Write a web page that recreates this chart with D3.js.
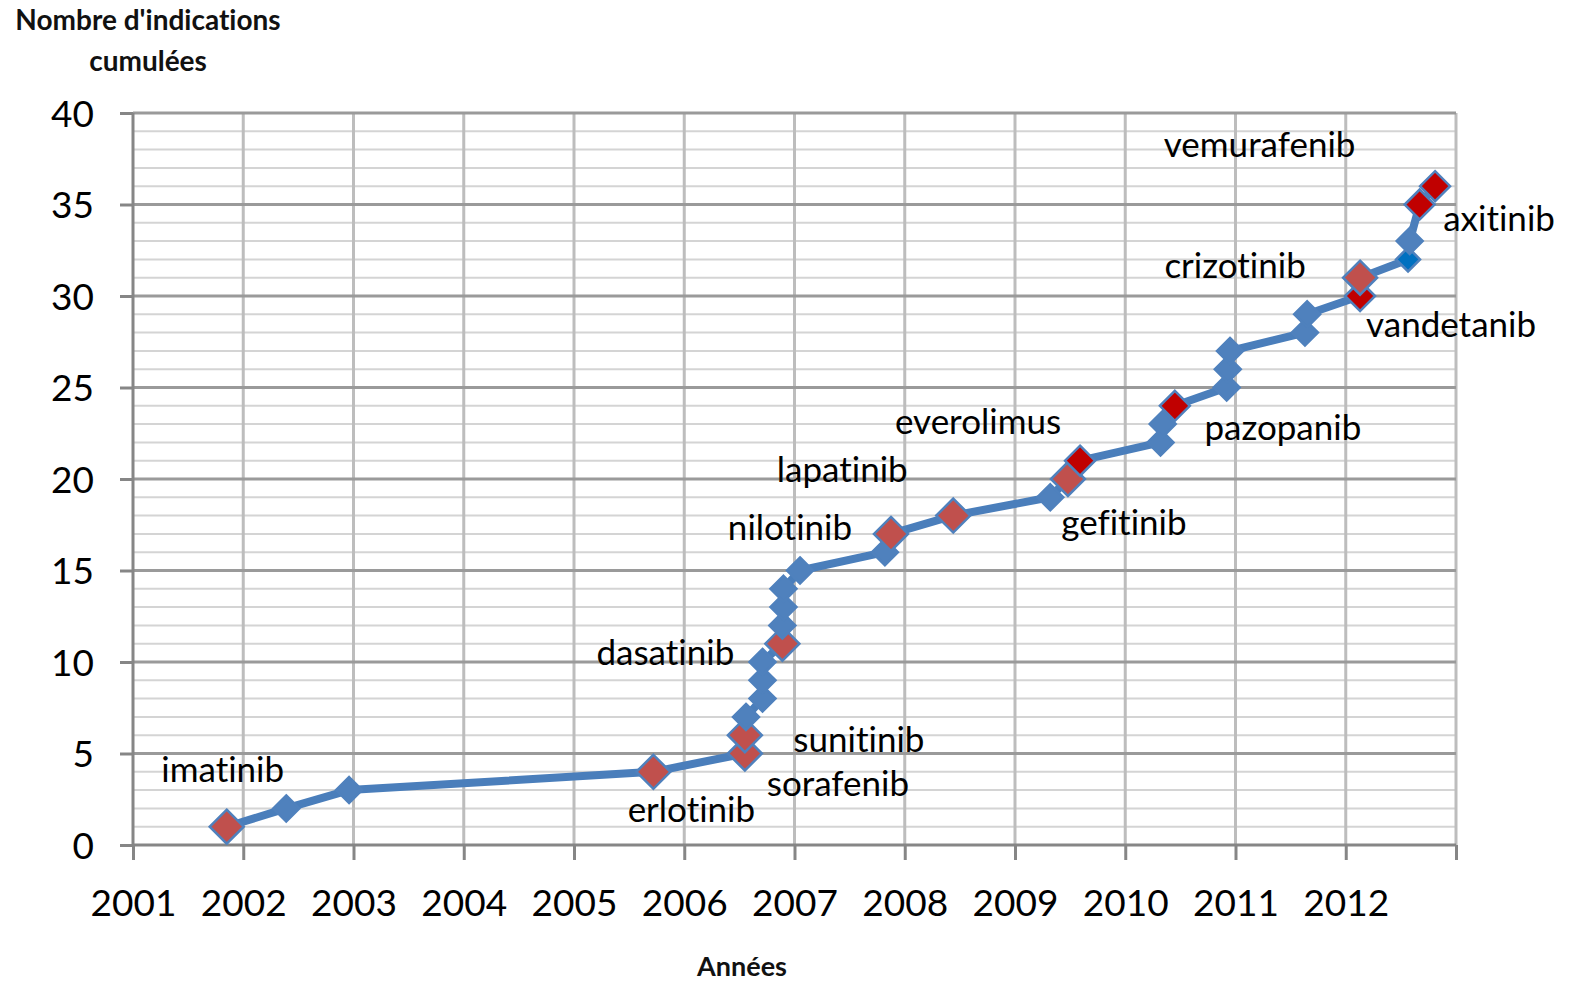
<!DOCTYPE html>
<html>
<head>
<meta charset="utf-8">
<script src="https://cdn.jsdelivr.net/npm/d3@7"></script>
<style>
  html, body { margin: 0; padding: 0; background: #fff; }
  svg { display: block; font-family: Lato, "Open Sans", sans-serif; font-variant-ligatures: none; }
</style>
</head>
<body>
<svg id="chart" width="1576" height="985"></svg>
<script>
// Approval dates (decimal years) and cumulative number of indications
const years = [2001.85, 2002.39, 2002.96, 2005.72, 2006.55, 2006.55, 2006.56, 2006.71, 2006.71, 2006.71,
               2006.89, 2006.89, 2006.90, 2006.90, 2007.05, 2007.82, 2007.875, 2008.44, 2009.32, 2009.48,
               2009.59, 2010.32, 2010.34, 2010.45, 2010.92, 2010.93, 2010.95, 2011.63, 2011.65, 2012.13,
               2012.13, 2012.565, 2012.58, 2012.67, 2012.81];
const counts = [1, 2, 3, 4, 5, 6, 7, 8, 9, 10,
                11, 12, 13, 14, 15, 16, 17, 18, 19, 20,
                21, 22, 23, 24, 25, 26, 27, 28, 29, 30,
                31, 32, 33, 35, 36];
// Marker kind per point: "new" = new molecule, "recent" = recent molecule, "ext" = extension, "ext2" = other extension
const kinds = ["new", "ext", "ext", "new", "new", "new", "ext", "ext", "ext", "ext",
               "new", "ext", "ext", "ext", "ext", "ext", "new", "new", "ext", "new",
               "recent", "ext", "ext", "recent", "ext", "ext", "ext", "ext", "ext", "recent",
               "new", "ext2", "ext", "recent", "recent"];

// Drug names and the point (cumulative count) each one annotates
const drugNames = ["imatinib", "erlotinib", "sorafenib", "sunitinib", "dasatinib", "nilotinib", "lapatinib",
                   "gefitinib", "everolimus", "pazopanib", "vandetanib", "crizotinib", "vemurafenib", "axitinib"];
const drugCounts = [1, 4, 5, 6, 11, 17, 18, 20, 21, 24, 30, 31, 35, 36];

const yTicks = [0, 5, 10, 15, 20, 25, 30, 35, 40];
const xTickLabels = ["2001", "2002", "2003", "2004", "2005", "2006", "2007", "2008", "2009", "2010", "2011", "2012"];

// Label placement (pixel offsets of each label from the point it names)
const labelOffsets = {
  imatinib: [-4, -45], erlotinib: [38, 50], sorafenib: [93, 42], sunitinib: [114, 17],
  dasatinib: [-117, 21], nilotinib: [-101, 6], lapatinib: [-111, -34], gefitinib: [56, 56],
  everolimus: [-102, -27], pazopanib: [108, 34], vandetanib: [91, 41], crizotinib: [-125, 0],
  vemurafenib: [-160, -48], axitinib: [64, 45]
};

const markerStyle = {
  new:    { fill: "#C0504D", r: 17 },
  recent: { fill: "#C00000", r: 15 },
  ext:    { fill: "#4F81BD", r: 13 },
  ext2:   { fill: "#0070C0", r: 12 }
};

const svg = d3.select("#chart");
const plotLeft = 133, plotRight = 1456, plotTop = 113, plotBottom = 845;

const x = d3.scaleLinear().domain([2001, 2013]).range([plotLeft, plotRight]);
const y = d3.scaleLinear().domain([0, 40]).range([plotBottom, plotTop]);

// Minor horizontal grid (every indication)
svg.append("g").selectAll("line")
  .data(d3.range(1, 40).filter(v => v % 5 !== 0))
  .join("line")
  .attr("x1", plotLeft).attr("x2", plotRight)
  .attr("y1", d => y(d)).attr("y2", d => y(d))
  .attr("stroke", "#D4D4D4").attr("stroke-width", 2);

// Vertical year grid
svg.append("g").selectAll("line")
  .data(d3.range(2002, 2014))
  .join("line")
  .attr("x1", d => x(d)).attr("x2", d => x(d))
  .attr("y1", plotTop).attr("y2", plotBottom)
  .attr("stroke", "#BDBDBD").attr("stroke-width", 3);

// Major horizontal grid
svg.append("g").selectAll("line")
  .data(yTicks.filter(v => v > 0))
  .join("line")
  .attr("x1", plotLeft).attr("x2", plotRight)
  .attr("y1", d => y(d)).attr("y2", d => y(d))
  .attr("stroke", "#9A9A9A").attr("stroke-width", 3);

// Y axis
const yAxis = d3.axisLeft(y).tickValues(yTicks).tickSize(13).tickPadding(26);
const gy = svg.append("g").attr("transform", `translate(${plotLeft},0)`).call(yAxis);
gy.select(".domain").attr("stroke", "#868686").attr("stroke-width", 3)
  .attr("d", `M0,${plotTop}V${plotBottom}`);
gy.selectAll(".tick line").attr("stroke", "#868686").attr("stroke-width", 3);
gy.selectAll(".tick text").attr("font-family", "Lato, sans-serif").attr("font-size", 37)
  .attr("fill", "#000").attr("dy", "0.36em");

// X axis
const xAxis = d3.axisBottom(x).tickValues(d3.range(2001, 2014)).tickSize(15)
  .tickFormat(d => xTickLabels[d - 2001] || "").tickPadding(30);
const gx = svg.append("g").attr("transform", `translate(0,${plotBottom})`).call(xAxis);
gx.select(".domain").attr("stroke", "#868686").attr("stroke-width", 3)
  .attr("d", `M${plotLeft},0H${plotRight}`);
gx.selectAll(".tick line").attr("stroke", "#868686").attr("stroke-width", 3);
gx.selectAll(".tick text").attr("font-family", "Lato, sans-serif").attr("font-size", 37)
  .attr("fill", "#000").attr("dy", "0.71em");

// Cumulative line
const pts = years.map((yr, i) => ({ yr, n: counts[i], kind: kinds[i] }));
svg.append("path")
  .datum(pts)
  .attr("fill", "none")
  .attr("stroke", "#4A7EBB")
  .attr("stroke-width", 8)
  .attr("stroke-linejoin", "round")
  .attr("d", d3.line().x(d => x(d.yr)).y(d => y(d.n)));

// Diamond markers
svg.append("g").selectAll("path")
  .data(pts)
  .join("path")
  .attr("transform", d => `translate(${x(d.yr)},${y(d.n)})`)
  .attr("d", d => {
    const r = markerStyle[d.kind].r;
    return `M0,${-r}L${r},0L0,${r}L${-r},0Z`;
  })
  .attr("fill", d => markerStyle[d.kind].fill)
  .attr("stroke", "#4F81BD")
  .attr("stroke-width", 2.5);

// Drug labels
svg.append("g").selectAll("text")
  .data(drugNames.map((name, i) => ({ name, n: drugCounts[i] })))
  .join("text")
  .attr("x", d => { const p = pts.find(q => q.n === d.n); return x(p.yr) + labelOffsets[d.name][0]; })
  .attr("y", d => y(d.n) + labelOffsets[d.name][1])
  .attr("text-anchor", "middle")
  .attr("font-size", 35)
  .attr("fill", "#000")
  .text(d => d.name);

// Axis titles
const yTitle = svg.append("text").attr("font-weight", "bold").attr("font-size", 28).attr("fill", "#111")
  .attr("text-anchor", "middle");
yTitle.append("tspan").attr("x", 148).attr("y", 30).text("Nombre d'indications");
yTitle.append("tspan").attr("x", 148).attr("y", 71).text("cumulées");

svg.append("text").attr("x", 742).attr("y", 976).attr("text-anchor", "middle")
  .attr("font-weight", "bold").attr("font-size", 27).attr("fill", "#111")
  .text("Années");
</script>
</body>
</html>
